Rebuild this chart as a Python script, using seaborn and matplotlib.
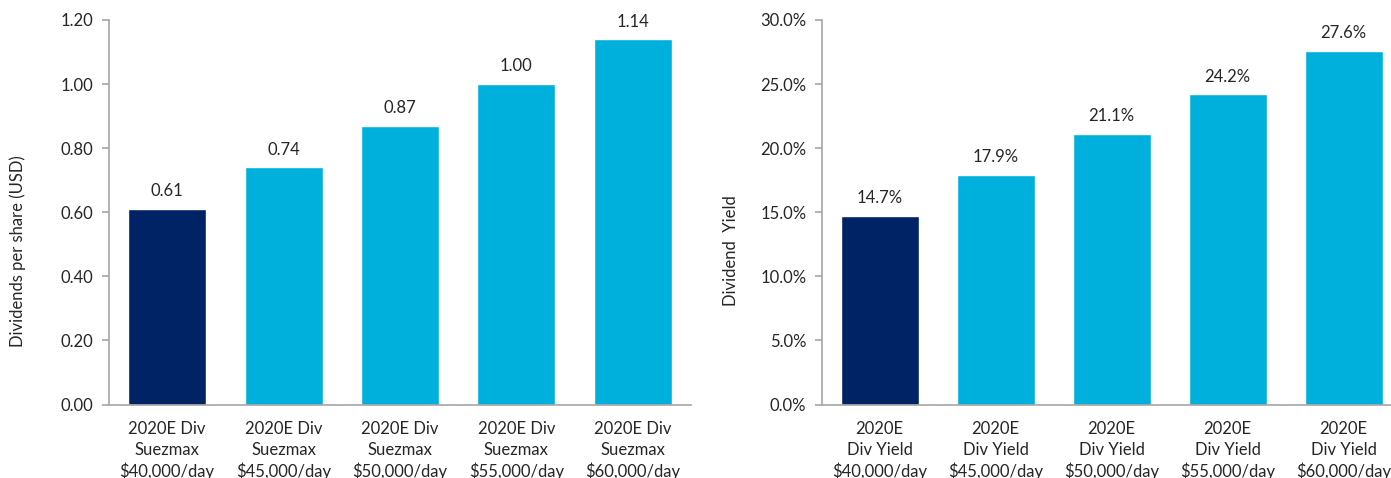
import matplotlib
matplotlib.use("Agg")
import matplotlib.pyplot as plt
import matplotlib.ticker as mticker
import seaborn as sns

# data
div_labels = ["2020E Div\nSuezmax\n$40,000/day", "2020E Div\nSuezmax\n$45,000/day",
              "2020E Div\nSuezmax\n$50,000/day", "2020E Div\nSuezmax\n$55,000/day",
              "2020E Div\nSuezmax\n$60,000/day"]
div_values = [0.61, 0.74, 0.87, 1.00, 1.14]

yield_labels = ["2020E\nDiv Yield\n$40,000/day", "2020E\nDiv Yield\n$45,000/day",
                "2020E\nDiv Yield\n$50,000/day", "2020E\nDiv Yield\n$55,000/day",
                "2020E\nDiv Yield\n$60,000/day"]
yield_values = [14.7, 17.9, 21.1, 24.2, 27.6]

navy = "#002366"
cyan = "#00B0DC"
bar_colors = [navy, cyan, cyan, cyan, cyan]
grey = "#A6A6A6"

sns.set_style("white")
plt.rcParams["font.family"] = ["Lato", "DejaVu Sans"]

fig = plt.figure(figsize=(13.91, 4.78), dpi=100)
ax1 = fig.add_axes([109 / 1391, 1 - 404.5 / 478, 582 / 1391, 384.5 / 478])
ax2 = fig.add_axes([821.7 / 1391, 1 - 404.5 / 478, 580 / 1391, 384.5 / 478])


def draw(ax, labels, values, ylim, step, fmt, ylabel, lab_fmt):
    sns.barplot(x=labels, y=values, hue=labels, palette=bar_colors, legend=False,
                width=0.67, saturation=1, ax=ax)
    ax.set_xlim(-0.5, len(labels) - 0.5)
    ax.set_ylim(0, ylim)
    ax.yaxis.set_major_locator(mticker.MultipleLocator(step))
    ax.yaxis.set_major_formatter(mticker.FuncFormatter(fmt))
    for side in ["top", "right"]:
        ax.spines[side].set_visible(False)
    for side in ["left", "bottom"]:
        ax.spines[side].set_color(grey)
        ax.spines[side].set_linewidth(1.2)
    ax.set_xticks(range(len(labels)))
    ax.set_xticklabels(labels, fontsize=12, linespacing=1.35)
    ax.set_xticks([i - 0.5 for i in range(len(labels) + 1)], minor=True)
    ax.tick_params(axis="x", which="major", length=0, pad=12)
    ax.tick_params(axis="x", which="minor", length=5, color=grey, direction="out", width=1.2)
    ax.tick_params(axis="y", length=5, color=grey, direction="out", width=1.2,
                   labelsize=12, pad=6, left=True)
    ax.set_ylabel(ylabel, fontsize=12)
    ax.set_xlabel("")
    for i, v in enumerate(values):
        ax.annotate(lab_fmt(v), (i, v), xytext=(0, 7), textcoords="offset points",
                    ha="center", va="bottom", fontsize=12)


draw(ax1, div_labels, div_values, 1.2, 0.2, lambda v, p: f"{v:.2f}",
     "Dividends per share (USD)", lambda v: f"{v:.2f}")
draw(ax2, yield_labels, yield_values, 30, 5, lambda v, p: f"{v:.1f}%",
     "Dividend  Yield", lambda v: f"{v:.1f}%")

ax1.yaxis.set_label_coords(-0.143, 0.4)
ax2.yaxis.set_label_coords(-0.143, 0.4)

fig.savefig("out.png", dpi=100)
